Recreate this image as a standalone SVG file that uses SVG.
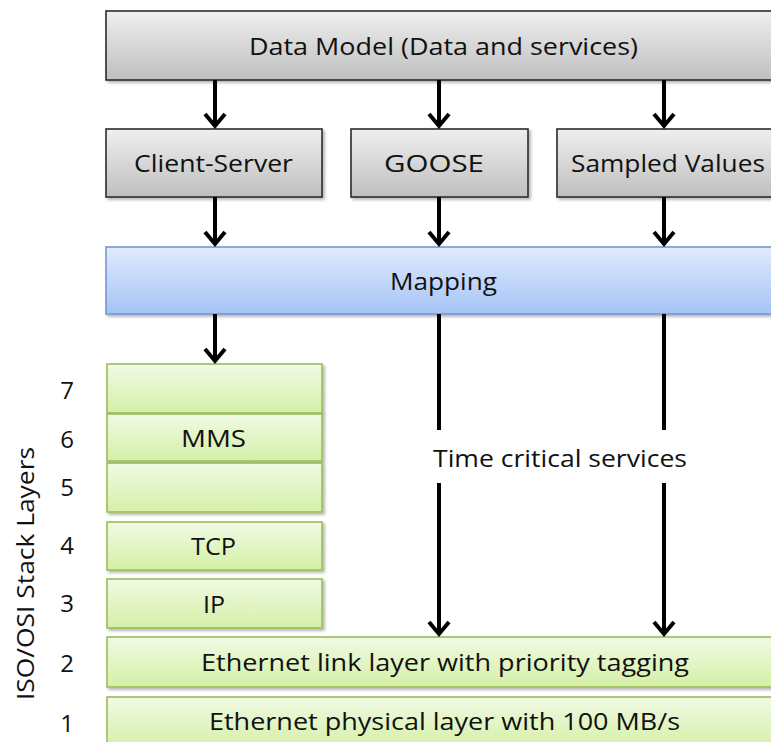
<svg xmlns="http://www.w3.org/2000/svg" width="771" height="742" viewBox="0 0 771 742">
  <defs>
    <linearGradient id="gGray" x1="0" y1="0" x2="0" y2="1">
      <stop offset="0" stop-color="#efefef"/>
      <stop offset="1" stop-color="#bfbfbf"/>
    </linearGradient>
    <linearGradient id="gBlue" x1="0" y1="0" x2="0" y2="1">
      <stop offset="0" stop-color="#e0ebfc"/>
      <stop offset="1" stop-color="#a5c3f6"/>
    </linearGradient>
    <linearGradient id="gGreen" x1="0" y1="0" x2="0" y2="1">
      <stop offset="0" stop-color="#f1fae4"/>
      <stop offset="1" stop-color="#d4f0a6"/>
    </linearGradient>
    <filter id="shadow" x="-5%" y="-10%" width="115%" height="130%">
      <feDropShadow dx="2" dy="2" stdDeviation="1.5" flood-color="#000" flood-opacity="0.3"/>
    </filter>
  </defs>
  <style>
    text { font-family: "Open Sans", "Noto Sans", "Liberation Sans", sans-serif; font-size: 24px; fill: #111111; }
    .gray { fill: url(#gGray); stroke: #2b2b2b; stroke-width: 1.6; filter: url(#shadow); }
    .blue { fill: url(#gBlue); stroke: #7598d2; stroke-width: 1.6; filter: url(#shadow); }
    .green { fill: url(#gGreen); stroke: #9cbc5c; stroke-width: 1.6; filter: url(#shadow); }
    .line { stroke: #000; stroke-width: 4; fill: none; }
    .head { stroke: #000; stroke-width: 4; fill: none; stroke-linejoin: miter; }
    .num { text-anchor: middle; }
  </style>

  <!-- top level data model -->
  <g id="data-model">
    <rect class="gray" x="106" y="11" width="680" height="69"/>
    <text x="249" y="55" textLength="389" lengthAdjust="spacingAndGlyphs">Data Model (Data and services)</text>
  </g>

  <!-- communication services -->
  <g id="client-server">
    <rect class="gray" x="106" y="129" width="216" height="68"/>
    <text x="134" y="172" textLength="159" lengthAdjust="spacingAndGlyphs">Client-Server</text>
  </g>
  <g id="goose">
    <rect class="gray" x="351" y="129" width="177" height="68"/>
    <text x="384" y="172" textLength="100" lengthAdjust="spacingAndGlyphs">GOOSE</text>
  </g>
  <g id="sampled-values">
    <rect class="gray" x="557" y="129" width="230" height="68"/>
    <text x="571" y="172" textLength="194" lengthAdjust="spacingAndGlyphs">Sampled Values</text>
  </g>

  <g id="mapping">
    <rect class="blue" x="106" y="247" width="680" height="67"/>
    <text x="390" y="290" textLength="107" lengthAdjust="spacingAndGlyphs">Mapping</text>
  </g>

  <!-- protocol stack -->
  <g id="layer-7">
    <rect class="green" x="107" y="364" width="215" height="49"/>
  </g>
  <g id="layer-6-mms">
    <rect class="green" x="107" y="414" width="215" height="47"/>
    <text x="181" y="447" textLength="65" lengthAdjust="spacingAndGlyphs">MMS</text>
  </g>
  <g id="layer-5">
    <rect class="green" x="107" y="463" width="215" height="49"/>
  </g>
  <g id="layer-4-tcp">
    <rect class="green" x="107" y="522" width="215" height="48"/>
    <text x="191" y="555" textLength="45" lengthAdjust="spacingAndGlyphs">TCP</text>
  </g>
  <g id="layer-3-ip">
    <rect class="green" x="107" y="579" width="215" height="49"/>
    <text x="203" y="613" textLength="22" lengthAdjust="spacingAndGlyphs">IP</text>
  </g>
  <g id="layer-2-link">
    <rect class="green" x="107" y="637" width="680" height="50"/>
    <text x="201" y="671" textLength="488" lengthAdjust="spacingAndGlyphs">Ethernet link layer with priority tagging</text>
  </g>
  <g id="layer-1-physical">
    <rect class="green" x="107" y="697" width="680" height="52"/>
    <text x="209" y="730" textLength="471" lengthAdjust="spacingAndGlyphs">Ethernet physical layer with 100 MB/s</text>
  </g>

  <!-- layer numbers and axis label -->
  <g id="layer-numbers">
    <text class="num" x="67" y="399">7</text>
    <text class="num" x="67" y="448">6</text>
    <text class="num" x="67" y="496">5</text>
    <text class="num" x="67" y="554">4</text>
    <text class="num" x="67" y="612">3</text>
    <text class="num" x="67" y="672">2</text>
    <text class="num" x="67" y="732">1</text>
  </g>
  <g id="axis-label">
    <text x="0" y="0" transform="translate(34 700) rotate(-90)" textLength="253" lengthAdjust="spacingAndGlyphs">ISO/OSI Stack Layers</text>
  </g>

  <g id="time-critical-label">
    <text x="433" y="467" textLength="254" lengthAdjust="spacingAndGlyphs">Time critical services</text>
  </g>

  <!-- connectors -->
  <g id="connectors">
    <!-- data model to services -->
    <path class="line" d="M215 80 V126 M439 80 V126 M664 80 V126"/>
    <path class="head" d="M205 114 L215 126 L225 114 M429 114 L439 126 L449 114 M654 114 L664 126 L674 114"/>
    <!-- services to mapping -->
    <path class="line" d="M215 197 V244 M439 197 V244 M664 197 V244"/>
    <path class="head" d="M205 232 L215 244 L225 232 M429 232 L439 244 L449 232 M654 232 L664 244 L674 232"/>
    <!-- mapping to MMS stack -->
    <path class="line" d="M215 314 V361"/>
    <path class="head" d="M205 349 L215 361 L225 349"/>
    <!-- time critical paths straight to the link layer -->
    <path class="line" d="M439 314 V430 M439 483 V634 M664 314 V430 M664 483 V634"/>
    <path class="head" d="M429 622 L439 634 L449 622 M654 622 L664 634 L674 622"/>
  </g>
</svg>
